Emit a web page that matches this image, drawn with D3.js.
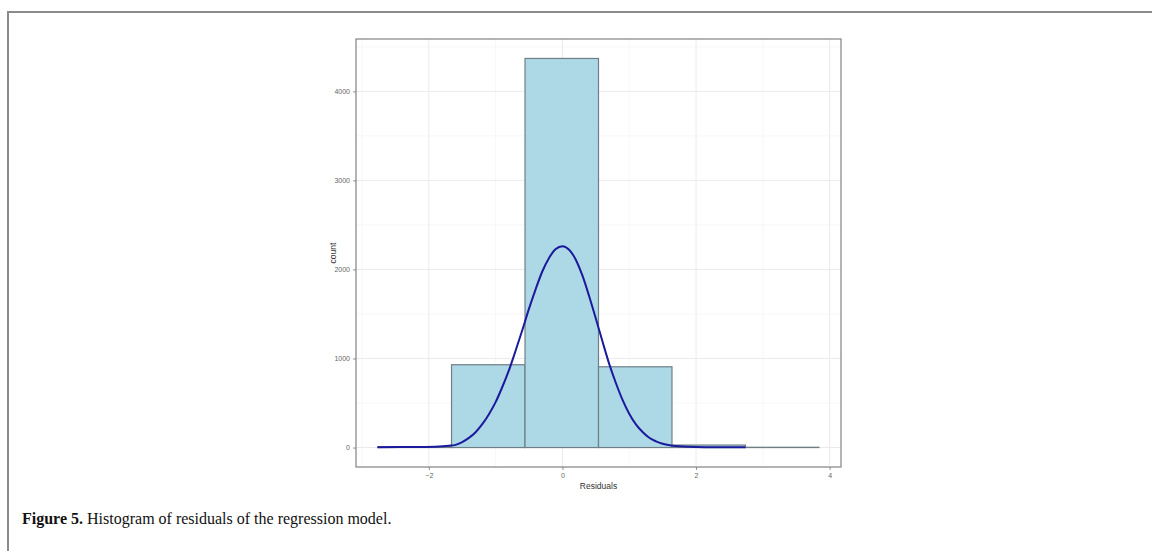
<!DOCTYPE html>
<html><head><meta charset="utf-8">
<script src="https://cdn.jsdelivr.net/npm/d3@7"></script>
<style>
html,body{margin:0;padding:0;background:#fff;}
svg{display:block;}
</style></head>
<body>
<svg id="chart" width="1152" height="551"></svg>
<script>
// Histogram bins (residual edges) and counts
const binEdges = [-2.76, -1.66, -0.56, 0.54, 1.64, 2.74, 3.84];
const binCounts = [10, 930, 4370, 907, 28, 3];
// Density curve (scaled to counts)
const curveX = [-2.77, -2.4, -2.1, -1.9, -1.7, -1.6, -1.5, -1.4, -1.3, -1.2, -1.1, -1.0, -0.9, -0.8, -0.7, -0.6, -0.5, -0.4, -0.3, -0.2, -0.1, 0.0,
                0.1, 0.2, 0.3, 0.4, 0.5, 0.6, 0.7, 0.8, 0.9, 1.0, 1.1, 1.2, 1.3, 1.4, 1.5, 1.65, 1.9, 2.2, 2.5, 2.74];
const curveY = [3, 5, 7, 10, 20, 30, 62, 108, 172, 262, 375, 510, 680, 870, 1090, 1320, 1560, 1780, 1980, 2130, 2230, 2262,
                2222, 2110, 1930, 1700, 1450, 1190, 940, 725, 535, 380, 260, 175, 110, 70, 42, 20, 8, 4, 2, 2];
const xTicks = [-2, 0, 2, 4];
const xMinor = [-3, -1, 1, 3];
const yTicks = [0, 1000, 2000, 3000, 4000];
const yMinor = [500, 1500, 2500, 3500, 4500];
const xTitle = "Residuals";
const yTitle = "count";
const captionBold = "Figure 5.";
const captionText = " Histogram of residuals of the regression model.";

const svg = d3.select("#chart");
const L = 356, R = 841, T = 39, B = 467;

const xr = [binEdges[0], binEdges[binEdges.length - 1]];
const xpad = (xr[1] - xr[0]) * 0.05;
const x = d3.scaleLinear().domain([xr[0] - xpad, xr[1] + xpad]).range([L, R]);
const ymax = d3.max(binCounts);
const y = d3.scaleLinear().domain([-ymax * 0.05, ymax * 1.05]).range([B, T]);

// outer frame (left and top lines)
svg.append("line").attr("x1", 8).attr("y1", 12).attr("x2", 1152).attr("y2", 12)
  .attr("stroke", "#8a8a8a").attr("stroke-width", 2);
svg.append("line").attr("x1", 8).attr("y1", 11).attr("x2", 8).attr("y2", 551)
  .attr("stroke", "#8a8a8a").attr("stroke-width", 2);

// panel background
const g = svg.append("g");
g.append("rect").attr("x", L).attr("y", T).attr("width", R - L).attr("height", B - T).attr("fill", "#fff");

// grid
const grid = g.append("g");
grid.selectAll(".xmin").data(xMinor).join("line")
  .attr("x1", d => x(d)).attr("x2", d => x(d)).attr("y1", T).attr("y2", B)
  .attr("stroke", "#f2f2f2").attr("stroke-width", 0.6);
grid.selectAll(".ymin").data(yMinor).join("line")
  .attr("y1", d => y(d)).attr("y2", d => y(d)).attr("x1", L).attr("x2", R)
  .attr("stroke", "#f2f2f2").attr("stroke-width", 0.6);
grid.selectAll(".xmaj").data(xTicks).join("line")
  .attr("x1", d => x(d)).attr("x2", d => x(d)).attr("y1", T).attr("y2", B)
  .attr("stroke", "#ebebeb").attr("stroke-width", 1);
grid.selectAll(".ymaj").data(yTicks).join("line")
  .attr("y1", d => y(d)).attr("y2", d => y(d)).attr("x1", L).attr("x2", R)
  .attr("stroke", "#ebebeb").attr("stroke-width", 1);

// bars
const bins = binCounts.map((c, i) => ({x0: binEdges[i], x1: binEdges[i + 1], c}));
g.selectAll(".bar").data(bins).join("rect")
  .attr("x", d => x(d.x0)).attr("width", d => x(d.x1) - x(d.x0))
  .attr("y", d => y(d.c)).attr("height", d => y(0) - y(d.c))
  .attr("fill", "#add8e6").attr("stroke", "#6f7f85").attr("stroke-width", 1.2);

// density curve
const pts = curveX.map((v, i) => [v, curveY[i]]);
const line = d3.line().x(d => x(d[0])).y(d => y(d[1])).curve(d3.curveMonotoneX);
g.append("path").attr("d", line(pts)).attr("fill", "none")
  .attr("stroke", "#1a1a9c").attr("stroke-width", 2);

// panel border
g.append("rect").attr("x", L).attr("y", T).attr("width", R - L).attr("height", B - T)
  .attr("fill", "none").attr("stroke", "#8c8c8c").attr("stroke-width", 1.3);

// axes
const xAxis = d3.axisBottom(x).tickValues(xTicks).tickSize(3).tickPadding(3).tickFormat(d3.format("d"));
const yAxis = d3.axisLeft(y).tickValues(yTicks).tickSize(3).tickPadding(3).tickFormat(d3.format("d"));
const gx = svg.append("g").attr("transform", `translate(0,${B})`).call(xAxis);
const gy = svg.append("g").attr("transform", `translate(${L},0)`).call(yAxis);
[gx, gy].forEach(a => {
  a.select(".domain").remove();
  a.selectAll(".tick line").attr("stroke", "#777").attr("stroke-width", 0.8);
  a.selectAll(".tick text").attr("fill", "#666").style("font-family", "Liberation Sans, Arial, sans-serif").style("font-size", "7px");
});

// axis titles
svg.append("text").attr("x", (L + R) / 2).attr("y", 489).attr("text-anchor", "middle")
  .style("font-family", "Liberation Sans, Arial, sans-serif").style("font-size", "8.5px").attr("fill", "#333")
  .text(xTitle);
svg.append("text").attr("transform", `translate(336,${(T + B) / 2}) rotate(-90)`).attr("text-anchor", "middle")
  .style("font-family", "Liberation Sans, Arial, sans-serif").style("font-size", "8.5px").attr("fill", "#333")
  .text(yTitle);

// caption
const cap = svg.append("text").attr("x", 22).attr("y", 524)
  .style("font-family", "Liberation Serif, Times New Roman, serif").style("font-size", "16px").attr("fill", "#111");
cap.append("tspan").style("font-weight", "bold").text(captionBold);
cap.append("tspan").text(captionText);
</script>
</body></html>
